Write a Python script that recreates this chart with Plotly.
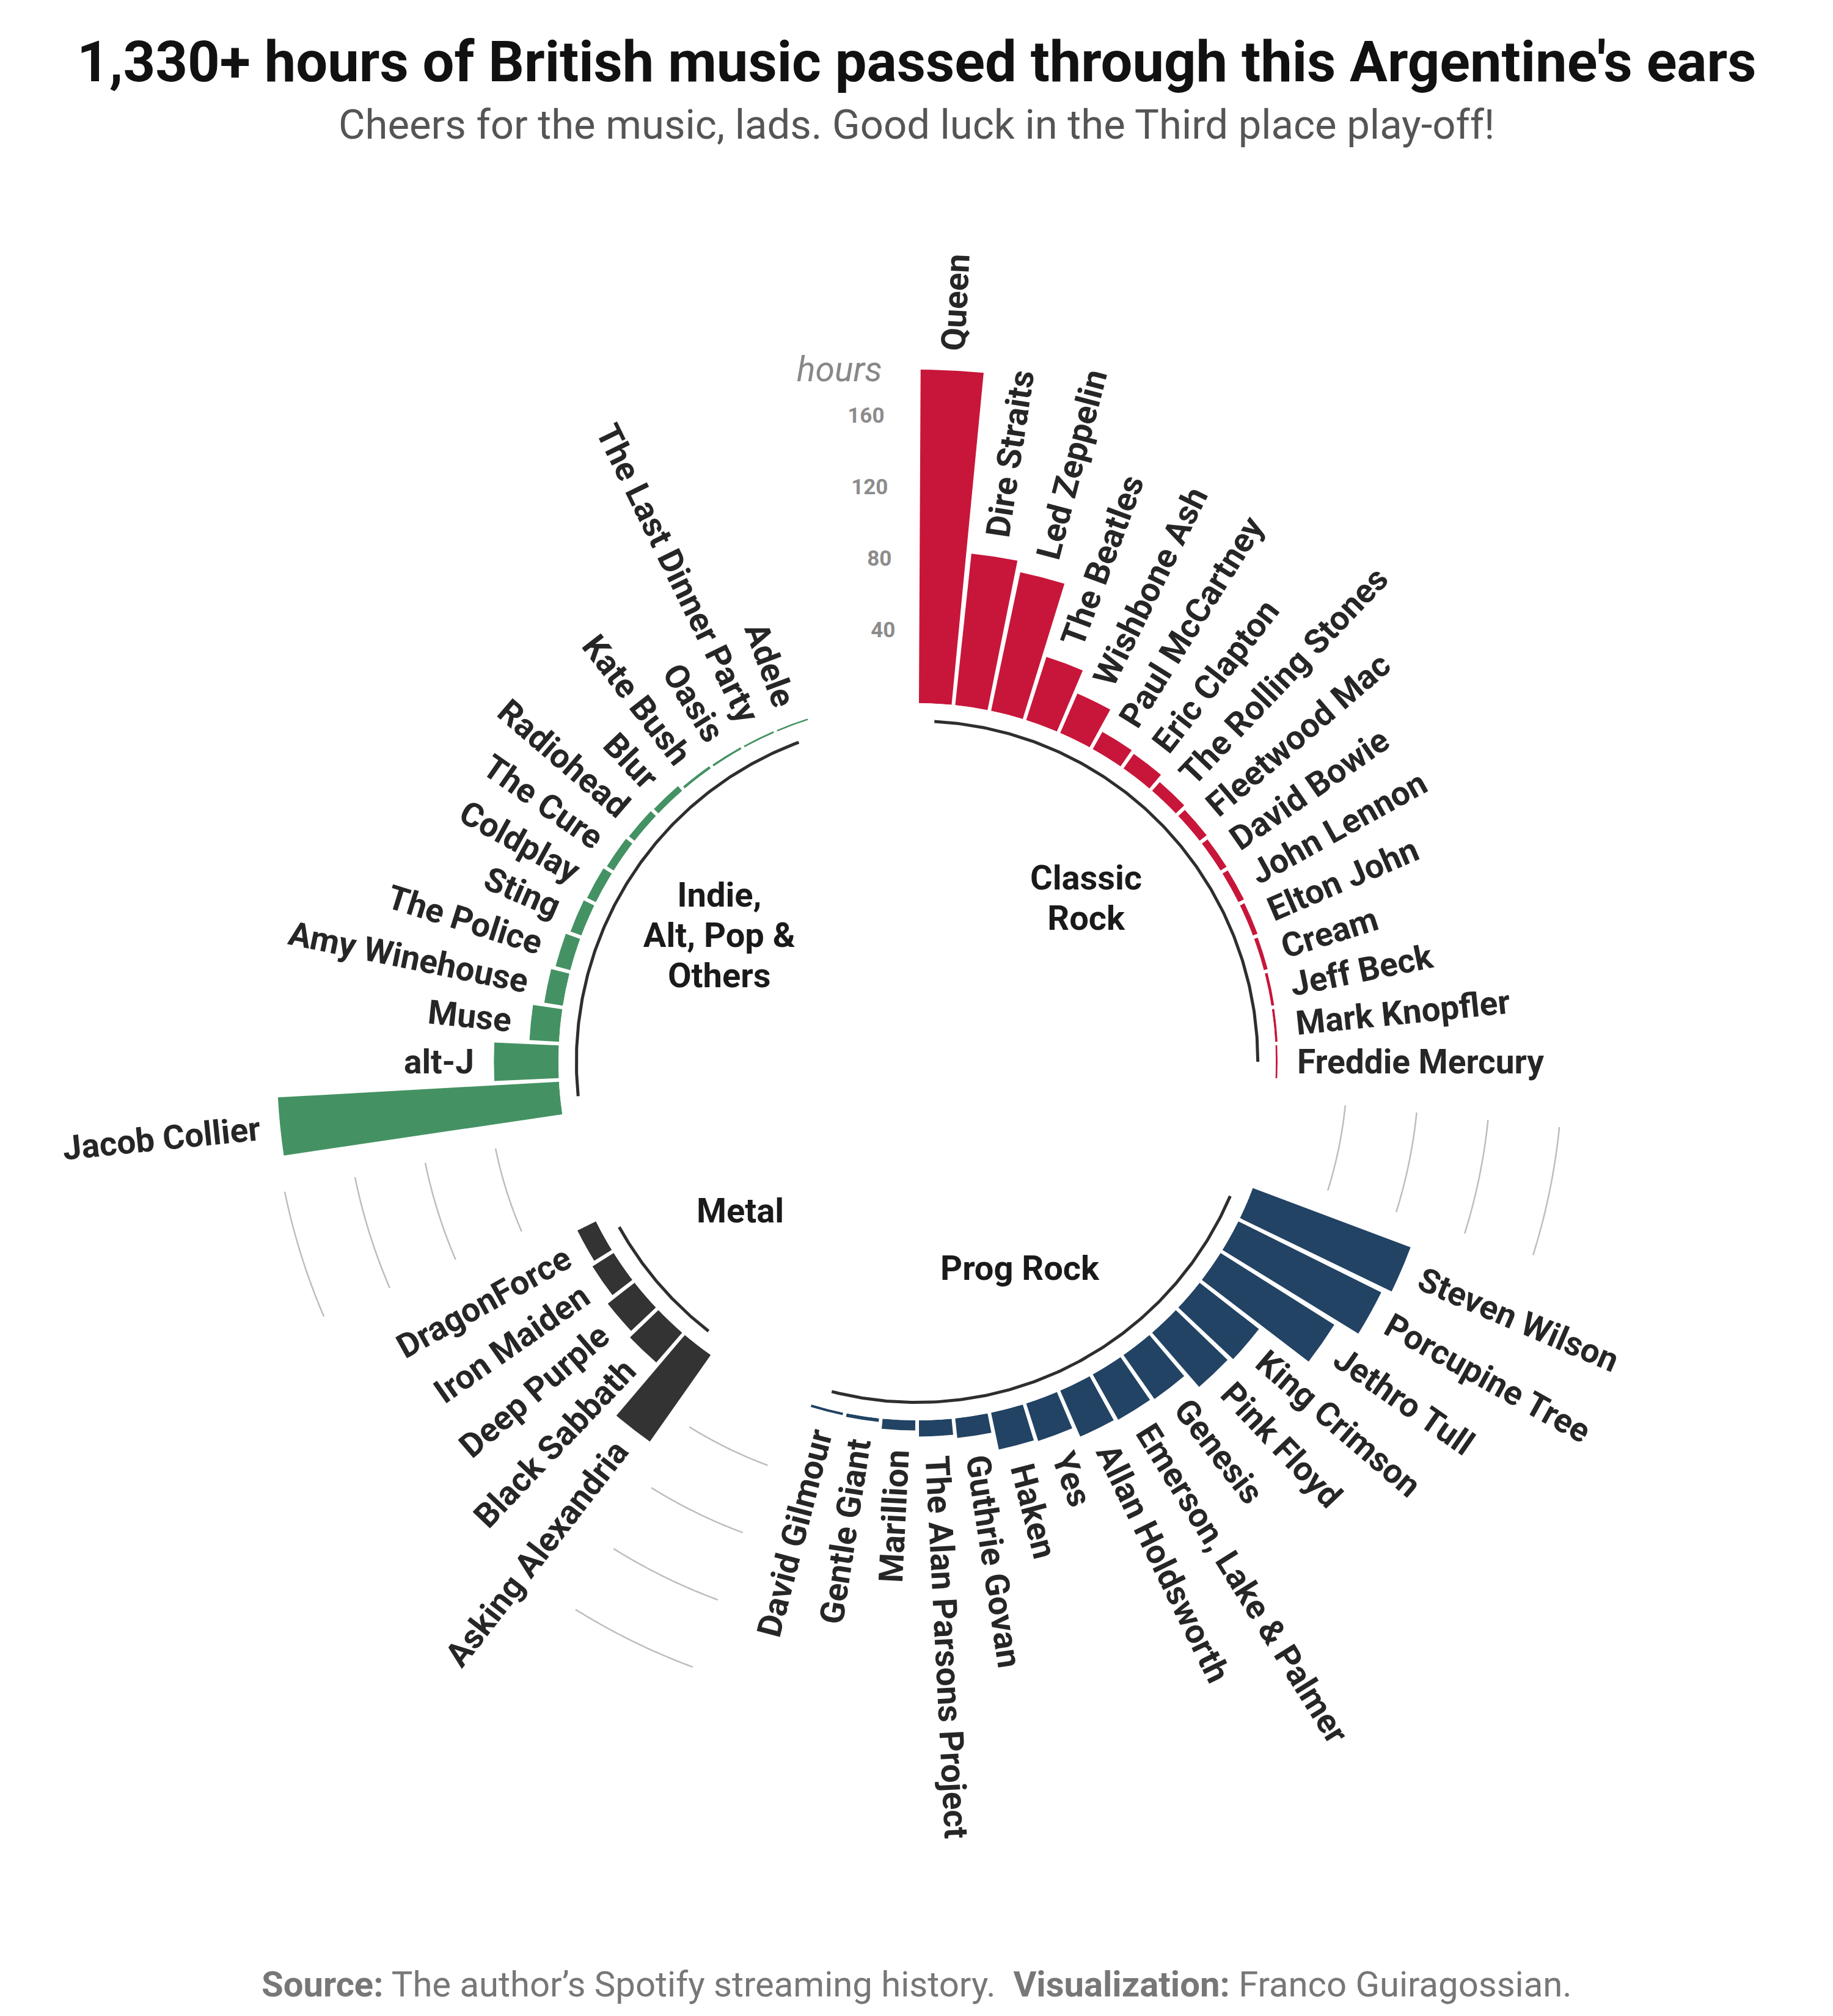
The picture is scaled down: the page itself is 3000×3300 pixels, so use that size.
import numpy as np
import plotly.graph_objects as go

# ---------------- data ----------------
classic_artists = ["Queen", "Dire Straits", "Led Zeppelin", "The Beatles", "Wishbone Ash",
                   "Paul McCartney", "Eric Clapton", "The Rolling Stones", "Fleetwood Mac",
                   "David Bowie", "John Lennon", "Elton John", "Cream", "Jeff Beck",
                   "Mark Knopfler", "Freddie Mercury"]
classic_hours = [186, 85, 79, 37, 24, 11, 10, 6.5, 5, 4, 3.5, 2.8, 2.2, 1.6, 1.3, 1.0]

prog_artists = ["Steven Wilson", "Porcupine Tree", "Jethro Tull", "King Crimson", "Pink Floyd",
                "Genesis", "Emerson, Lake & Palmer", "Allan Holdsworth", "Yes", "Haken",
                "Guthrie Govan", "The Alan Parsons Project", "Marillion", "Gentle Giant",
                "David Gilmour"]
prog_hours = [94, 89, 75, 42, 40, 30, 29, 28, 22, 21, 11, 9, 5.6, 2.0, 1.4]

metal_artists = ["Asking Alexandria", "Black Sabbath", "Deep Purple", "Iron Maiden", "DragonForce"]
metal_hours = [59, 22, 19, 14, 11.5]

indie_artists = ["Jacob Collier", "alt-J", "Muse", "Amy Winehouse", "The Police", "Sting",
                 "Coldplay", "The Cure", "Radiohead", "Blur", "Kate Bush", "Oasis",
                 "The Last Dinner Party", "Adele"]
indie_hours = [157, 36, 16.5, 10.5, 8.5, 6.5, 5.5, 4.5, 4, 3.5, 1.5, 1.2, 1.0, 0.9]

group_labels = [["Classic", "Rock"], ["Prog Rock"], ["Metal"], ["Indie,", "Alt, Pop &", "Others"]]
group_colors = ["#C8163A", "#224364", "#333333", "#449263"]
grid_values = [40, 80, 120, 160]
grid_labels = ["40", "80", "120", "160"]

groups = [
    (group_labels[0], classic_artists, classic_hours, group_colors[0]),
    (group_labels[1], prog_artists, prog_hours, group_colors[1]),
    (group_labels[2], metal_artists, metal_hours, group_colors[2]),
    (group_labels[3], indie_artists, indie_hours, group_colors[3]),
]

# ---------------- geometry / layout constants ----------------
W, H = 3000, 3300
CX, CY = 1501, 1738          # centre of the circle in page pixels (from top-left)
PXH = 2.935                  # pixels per hour
HOLE = 200                   # hole radius expressed in hours
RMAX = 200                   # radial axis maximum (hours)
R_PX = (HOLE + RMAX) * PXH
GAP = 3                      # empty slots after every group
BAR_W = 0.9
LABEL_OFF = 11               # hours between bar end and its label
BASE_R = -10                 # group base arc
GROUP_R = -70                # group title radius
GROUP_LINE_PX = 66           # line spacing of group titles

n_slots = sum(len(a) for _, a, _, _ in groups) + GAP * len(groups)


def theta_of(pos):
    return (pos - 0.5) / n_slots * 360.0


def xy(theta_deg, r_hours):
    t = np.radians(theta_deg)
    r = HOLE + np.asarray(r_hours, dtype=float)
    return r * np.sin(t), r * np.cos(t)


fig = go.Figure()
annotations = []

pos = 1
group_spans = []
for glines, artists, hours, color in groups:
    positions = list(range(pos, pos + len(artists)))
    thetas = [theta_of(p) for p in positions]
    fig.add_trace(go.Barpolar(
        r=hours, theta=thetas, width=[BAR_W * 360.0 / n_slots] * len(artists),
        marker=dict(color=color, line=dict(width=0)),
        showlegend=False, hoverinfo="skip", subplot="polar"))
    # artist labels
    for name, val, th in zip(artists, hours, thetas):
        x, y = xy(th, val + LABEL_OFF)
        safe = name.replace("&", "&amp;")
        ghost = '<span style="color:rgba(0,0,0,0)">' + safe + '</span>'
        if th <= 180:
            text = ghost + safe
            angle = th - 90
        else:
            text = safe + ghost
            angle = th - 270
        annotations.append(dict(
            x=float(x), y=float(y), xref="x", yref="y", text=text, showarrow=False,
            textangle=angle, xanchor="center", yanchor="middle",
            font=dict(family="Roboto", size=55, color="#262626", weight=700)))
    group_spans.append((positions[0], positions[-1], glines))
    pos += len(artists) + GAP

# grid arcs in the gaps (except the last gap, which holds the scale labels)
for i in range(len(groups) - 1):
    start_pos = group_spans[i][1] + 1
    end_pos = group_spans[i + 1][0] - 1
    th = np.linspace(theta_of(start_pos), theta_of(end_pos), 60)
    for gv in grid_values:
        fig.add_trace(go.Scatterpolar(
            r=[gv] * len(th), theta=th, mode="lines",
            line=dict(color="#BDBDBD", width=2.5),
            showlegend=False, hoverinfo="skip", subplot="polar"))

# group base arcs and titles
for s, e, glines in group_spans:
    th = np.linspace(theta_of(s), theta_of(e), 200)
    bx, by = xy(th, [BASE_R] * len(th))
    fig.add_trace(go.Scatter(x=bx, y=by, mode="lines",
                             line=dict(color="#2E2E2E", width=5),
                             showlegend=False, hoverinfo="skip"))
    tx, ty = xy(theta_of((s + e) / 2.0), GROUP_R)
    n = len(glines)
    ys = [ty - (k - (n - 1) / 2.0) * GROUP_LINE_PX / PXH for k in range(n)]
    fig.add_trace(go.Scatter(x=[tx] * n, y=ys, mode="text",
                             text=[g.replace("&", "&amp;") for g in glines],
                             textposition="middle center",
                             textfont=dict(family="Roboto", size=56, color="#1A1A1A", weight=700),
                             showlegend=False, hoverinfo="skip"))

# scale labels
scale_theta = theta_of(n_slots)
sx, sy = xy(scale_theta, grid_values)
fig.add_trace(go.Scatter(x=sx, y=sy, mode="text", text=grid_labels,
                         textposition="middle left",
                         textfont=dict(family="Roboto", size=35, color="#8C8C8C", weight=700),
                         showlegend=False, hoverinfo="skip"))
hx, hy = xy(scale_theta, 185)
fig.add_trace(go.Scatter(x=[hx], y=[hy], mode="text", text=["hours"],
                         textposition="middle left",
                         textfont=dict(family="Roboto", size=57, color="#888888", style="italic"),
                         showlegend=False, hoverinfo="skip"))

# titles
annotations.append(dict(
    x=0.5, y=1 - 101 / H, xref="paper", yref="paper", showarrow=False,
    text="1,330+ hours of British music passed through this Argentine's ears",
    xanchor="center", yanchor="middle",
    font=dict(family="Roboto", size=92, color="#111111", weight=700)))
annotations.append(dict(
    x=0.5, y=1 - 204 / H, xref="paper", yref="paper", showarrow=False,
    text="Cheers for the music, lads. Good luck in the Third place play-off!",
    xanchor="center", yanchor="middle",
    font=dict(family="Roboto", size=67, color="#555555")))
annotations.append(dict(
    x=0.5, y=1 - 3248 / H, xref="paper", yref="paper", showarrow=False,
    text="<b>Source:</b> The author\u2019s Spotify streaming history.\u00a0 <b>Visualization:</b> Franco Guiragossian.",
    xanchor="center", yanchor="middle",
    font=dict(family="Roboto", size=58, color="#777777")))

fig.update_layout(
    width=W, height=H, margin=dict(l=0, r=0, t=0, b=0),
    paper_bgcolor="white", plot_bgcolor="rgba(0,0,0,0)",
    showlegend=False,
    xaxis=dict(domain=[0, 1], range=[-CX / PXH, (W - CX) / PXH], visible=False,
               showgrid=False, zeroline=False, fixedrange=True),
    yaxis=dict(domain=[0, 1], range=[-(H - CY) / PXH, CY / PXH], visible=False,
               showgrid=False, zeroline=False, fixedrange=True),
    polar=dict(
        domain=dict(x=[(CX - R_PX) / W, (CX + R_PX) / W],
                    y=[(H - CY - R_PX) / H, (H - CY + R_PX) / H]),
        hole=HOLE / (HOLE + RMAX),
        bgcolor="rgba(0,0,0,0)",
        radialaxis=dict(range=[0, RMAX], visible=False, showgrid=False),
        angularaxis=dict(direction="clockwise", rotation=90, visible=False,
                         showgrid=False, showline=False, thetaunit="degrees"),
        barmode="overlay",
    ),
    annotations=annotations,
)

fig.write_html("out.html")
